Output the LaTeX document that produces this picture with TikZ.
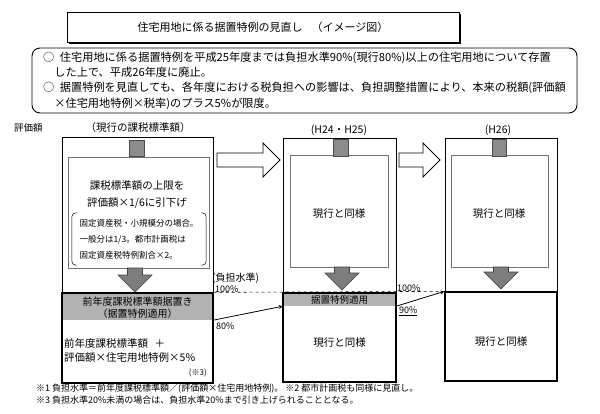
\documentclass[tikz,border=0pt]{standalone}
\usepackage{fontspec}
\setmainfont{Noto Sans CJK JP}
\usepackage{tikz}
\usetikzlibrary{arrows,shapes,positioning,shadows}
\usepackage{xcolor}
\definecolor{bandgray}{RGB}{178,178,178}
\definecolor{tabgray}{RGB}{140,140,140}
\definecolor{arrowgray}{RGB}{125,125,125}
\definecolor{thingray}{RGB}{115,115,115}
\tikzstyle{outerbox} = [draw, line width=0.6pt, inner sep=0pt]
\tikzstyle{innerbox} = [draw=thingray, line width=0.5pt, inner sep=0pt]
\tikzstyle{basebox} = [draw, line width=1.3pt, inner sep=0pt]
\tikzstyle{band} = [fill=bandgray, inner sep=0pt]
\tikzstyle{tab} = [fill=tabgray, draw=black!70, line width=0.5pt, inner sep=0pt]
\tikzstyle{lbl} = [inner sep=0pt, font=\fontsize{10.5}{12}\selectfont]
\tikzstyle{smalllbl} = [inner sep=0pt, font=\fontsize{9}{11}\selectfont]
\tikzstyle{arrow} = [line width=0.8pt,->,>=stealth]
% fat gray arrow pointing down: x, top y, tip y
\newcommand{\fatdown}[3]{%
  \draw[fill=arrowgray, draw=black!75, line width=0.6pt] (#1-7.5,#2) -- (#1+7.5,#2) -- (#1+7.5,#3-17) -- (#1+17,#3-17)
    -- (#1,#3) -- (#1-17,#3-17) -- (#1-7.5,#3-17) -- cycle;}
% hollow arrow pointing right: start x, tip x
\newcommand{\fatright}[2]{%
  \draw[line width=0.9pt, fill=white] (#1,153) -- (#2-17,153) -- (#2-17,143) -- (#2,160) -- (#2-17,177)
    -- (#2-17,167) -- (#1,167) -- cycle;}

\begin{document}
\begin{tikzpicture}[x=1pt, y=-1pt]
\useasboundingbox (0,0) rectangle (600,413);

% Title
\node[draw, fill=white, line width=0.6pt, minimum width=392pt, minimum height=30pt,
  inner sep=0pt, font=\fontsize{11}{12}\selectfont] (title) at (263,27)
  {住宅用地に係る据置特例の見直し\hspace{0.8em}（イメージ図）};
\draw[line width=1.6pt] ([xshift=2pt, yshift=-0.6pt]title.south west) -- ([xshift=0.6pt, yshift=-0.6pt]title.south east)
  -- ([xshift=0.6pt, yshift=-2pt]title.north east);

% Summary
\node[draw, fill=white, rounded corners=8pt, line width=0.9pt, minimum width=545pt, minimum height=65pt,
  align=left, inner sep=0pt, font=\fontsize{11.2}{15.3}\selectfont] (summary) at (304.5,80.5)
  {○\hspace{0.5em}住宅用地に係る据置特例を平成25年度までは負担水準90\%(現行80\%)以上の住宅用地について存置\\
   \hspace*{1em}した上で、平成26年度に廃止。\\
   ○\hspace{0.5em}据置特例を見直しても、各年度における税負担への影響は、負担調整措置により、本来の税額(評価額\\
   \hspace*{1em}×住宅用地特例×税率)のプラス5\%が限度。};

% Column headings
\node[anchor=west, inner sep=0pt, font=\fontsize{9.5}{11}\selectfont] (evallbl) at (14,128) {評価額};
\node[lbl] (nowlbl) at (138,128) {（現行の課税標準額）};
\node[lbl] (h2425lbl) at (339,130) {(H24・H25)};
\node[lbl] (h26lbl) at (498,130) {(H26)};

% Column 1 (current)
\node[outerbox, minimum width=151pt, minimum height=156pt] (col1out) at (137.5,215) {};
\node[innerbox, minimum width=141pt, minimum height=111pt] (col1in) at (138.5,212.5) {};
\node[tab, minimum width=15pt, minimum height=16pt] (col1tab) at (136.5,148) {};
\node[lbl] (cap1) at (137,185) {課税標準額の上限を};
\node[lbl] (cap2) at (137,203) {評価額×1/6に引下げ};
\node[align=left, inner sep=0pt, minimum width=134pt, minimum height=52pt,
  font=\fontsize{8.5}{16}\selectfont] (note) at (139,239)
  {固定資産税・小規模分の場合。\\一般分は1/3。都市計画税は\\固定資産税特例割合×2。};
\draw[line width=0.5pt, rounded corners=4pt] ([xshift=5pt]note.north west) -- (note.north west) -- (note.south west) -- ([xshift=5pt]note.south west);
\draw[line width=0.5pt, rounded corners=4pt] ([xshift=-5pt]note.north east) -- (note.north east) -- (note.south east) -- ([xshift=-5pt]note.south east);
\fatdown{135}{268}{292}
\node[band, minimum width=151pt, minimum height=27pt] (col1band) at (137.5,306.5) {};
\node[basebox, minimum width=151pt, minimum height=90pt] (col1base) at (137.5,338) {};
\node[lbl, font=\fontsize{10}{12}\selectfont] (hold1) at (137.5,301.5) {前年度課税標準額据置き};
\node[lbl, font=\fontsize{10}{12}\selectfont] (hold2) at (137.5,313.5) {（据置特例適用）};
\node[lbl, anchor=west] (calc1) at (64,343) {前年度課税標準額\hspace{0.6em}＋};
\node[lbl, anchor=west] (calc2) at (64,358) {評価額×住宅用地特例×5\%};
\node[inner sep=0pt, anchor=east, font=\fontsize{8}{10}\selectfont] (ref3) at (207,373) {(※3)};

% Column 2 (H24, H25)
\node[outerbox, minimum width=113pt, minimum height=155pt] (col2out) at (339.5,215.5) {};
\node[innerbox, minimum width=98pt, minimum height=112pt] (col2in) at (339,211) {};
\node[tab, minimum width=15pt, minimum height=17pt] (col2tab) at (340.5,147.5) {};
\node[lbl] (same2a) at (339,214) {現行と同様};
\fatdown{342}{267}{290}
\node[band, minimum width=113pt, minimum height=13pt] (col2band) at (339.5,299.5) {};
\node[basebox, minimum width=113pt, minimum height=89pt] (col2base) at (339.5,337.5) {};
\node[lbl, font=\fontsize{9.5}{11}\selectfont] (hold3) at (339.5,299.5) {据置特例適用};
\node[lbl] (same2b) at (339.5,343) {現行と同様};

% Column 3 (H26)
\node[outerbox, minimum width=112pt, minimum height=154pt] (col3out) at (501,215) {};
\node[innerbox, minimum width=97pt, minimum height=112pt] (col3in) at (499.5,211) {};
\node[tab, minimum width=14pt, minimum height=17pt] (col3tab) at (499,147.5) {};
\node[lbl] (same3a) at (499,214) {現行と同様};
\fatdown{501}{267}{289}
\node[basebox, minimum width=112pt, minimum height=89pt] (col3base) at (501,336.5) {};
\node[lbl] (same3b) at (501,342) {現行と同様};

% Transition arrows
\fatright{217}{280}
\fatright{399}{440}

% Burden level lines
\draw[line width=0.6pt, dashed] (col1base.north east) -- (col3base.north west);
\draw[arrow] (col1band.south east) -- (col2band.south west);
\draw[arrow] (col2band.south east) -- (col3base.north west);
\node[anchor=west, inner sep=0pt, font=\fontsize{10}{12}\selectfont] (levellbl) at (212,278) {(負担水準)};
\node[anchor=west, smalllbl] (pct100a) at (215,289) {100\%};
\node[anchor=west, smalllbl] (pct80) at (216,326) {80\%};
\node[anchor=west, smalllbl] (pct100b) at (397,288) {100\%};
\node[anchor=west, smalllbl] (pct90) at (399,311) {\underline{90\%}};

% Footnotes
\node[anchor=west, smalllbl] (foot1) at (36,389) {※1 負担水準＝前年度課税標準額／(評価額×住宅用地特例)。\ ※2 都市計画税も同様に見直し。};
\node[anchor=west, smalllbl] (foot2) at (36,400) {※3 負担水準20\%未満の場合は、負担水準20\%まで引き上げられることとなる。};
\end{tikzpicture}
\end{document}
